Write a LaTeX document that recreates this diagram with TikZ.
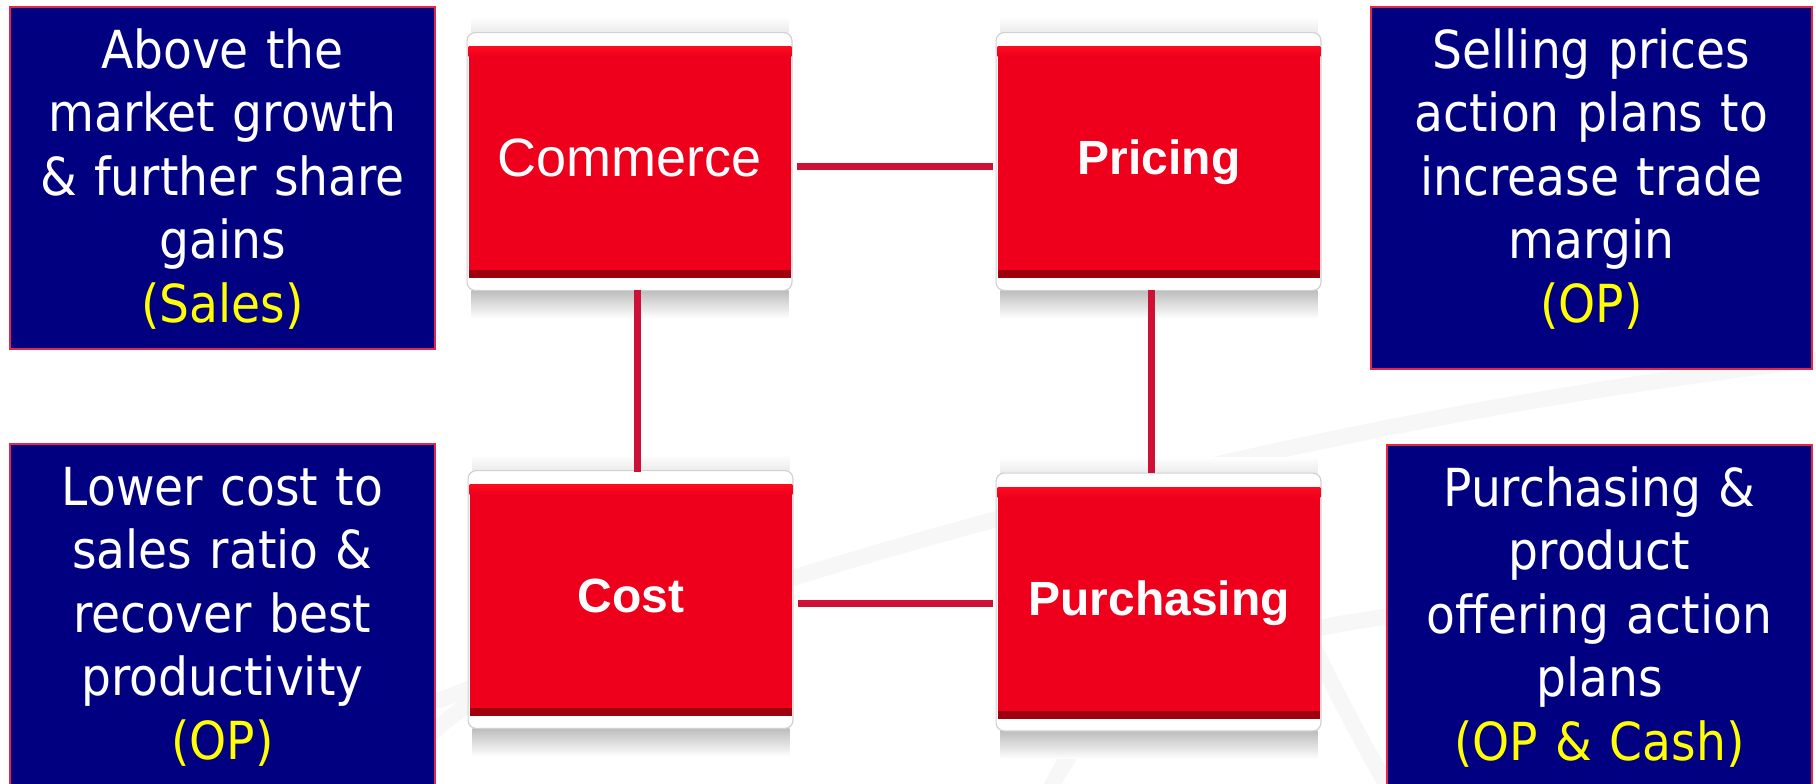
\documentclass[tikz,border=0pt]{standalone}
\usepackage{fontspec}
\setmainfont{Liberation Sans}
\newfontfamily\notefont{DejaVu Sans Condensed}
\usetikzlibrary{calc,backgrounds}

\definecolor{blockred}{RGB}{238,0,28}
\definecolor{blocktop}{RGB}{255,10,32}
\definecolor{blockdark}{RGB}{158,0,14}
\definecolor{linkred}{RGB}{206,16,54}
\definecolor{notenavy}{RGB}{0,0,128}
\definecolor{noteedge}{RGB}{226,40,70}
\definecolor{noteyellow}{RGB}{255,255,0}

\tikzset{
  block/.style={rectangle, fill=blockred, text=white, inner sep=0pt,
    minimum width=161pt, minimum height=115.5pt, text depth=5pt},
  blockregular/.style={block, font=\fontsize{27}{32}\selectfont, text height=19.4pt},
  blockbold/.style={block, font=\bfseries\fontsize{24}{29}\selectfont, text height=17.2pt},
  link/.style={draw=linkred, line width=3.5pt},
  notebox/.style={rectangle, fill=notenavy, draw=noteedge, line width=1pt,
    inner sep=0pt, anchor=north west},
  notetext/.style={text=white, align=center, anchor=north, inner sep=0pt,
    font=\notefont\fontsize{26.2}{31.75}\selectfont},
  swoosh/.style={draw=black!3, line width=8pt, line cap=round},
}

% strut fixing the height of the first line of a note
\newcommand\fl{\rule{0pt}{20.5pt}}

% white tray, shadows and edge bands around a red block
\newcommand\blockframe[1]{%
  \begin{scope}[on background layer]
    \shade[top color=white, bottom color=black!8]
      ($(#1.north west)+(3,-30)$) rectangle ($(#1.north east)+(-3,-14)$);
    \shade[top color=black!26, bottom color=white]
      ($(#1.south west)+(3,12)$) rectangle ($(#1.south east)+(-3,40)$);
    \filldraw[fill=white, draw=black!18, line width=0.6pt, rounded corners=4pt]
      ($(#1.north west)+(-1.5,-14)$) rectangle ($(#1.south east)+(0.5,12)$);
  \end{scope}
  \shade[top color=blocktop, bottom color=blockred]
    (#1.north west) rectangle ($(#1.north east)+(0,10)$);
  \fill[blockdark] ($(#1.south west)+(0,-8)$) rectangle (#1.south east);
}

\begin{document}
\begin{tikzpicture}[x=0.5pt,y=-0.5pt]
\useasboundingbox (0,0) rectangle (1816,783);

% page and faint background strokes
\begin{scope}[on background layer]
  \fill[white] (0,0) rectangle (1816,783);
  \draw[swoosh] (440,700) .. controls (800,560) and (1300,420) .. (1816,360);
  \draw[swoosh] (1050,790) .. controls (1090,700) and (1200,640) .. (1400,615);
  \draw[swoosh] (1290,600) .. controls (1330,680) and (1360,740) .. (1390,790);
  \draw[swoosh] (380,790) .. controls (420,740) and (460,700) .. (520,680);
\end{scope}

% the four red blocks
\node[blockregular] (commerce)   at (630,162.5) {Commerce};
\node[blockbold]    (pricing)    at (1159,162.5) {Pricing};
\node[blockbold]    (cost)       at (631,600.5) {Cost};
\node[blockbold]    (purchasing) at (1159,603) {Purchasing};

\blockframe{commerce}
\blockframe{pricing}
\blockframe{cost}
\blockframe{purchasing}

% connectors
\draw[link, shorten <=3pt, shorten >=2.5pt]
  ($(commerce.east)+(0,3.5)$) -- ($(commerce.east -| pricing.west)+(0,3.5)$);
\draw[link, shorten <=3pt, shorten >=2.5pt]
  ($(cost.east)+(0,2.5)$) -- ($(cost.east -| purchasing.west)+(0,2.5)$);
\draw[link] ($(commerce.south)+(7,12)$) -- ($(commerce.south |- cost.north)+(7,-13)$);
\draw[link] ($(pricing.south)+(-8,12)$) -- ($(pricing.south |- purchasing.north)+(-8,-14)$);

% notes
\node[notebox, minimum width=212.5pt, minimum height=171pt] (salesbox) at (9,6) {};
\node[notetext, text width=212pt] (salesnote) at ($(salesbox.north)+(0,21)$)
  {\fl Above the\\market growth\\\& further share\\gains\\\textcolor{noteyellow}{(Sales)}};

\node[notebox, minimum width=220.5pt, minimum height=181pt] (pricebox) at (1370,6) {};
\node[notetext, text width=220pt] (pricenote) at ($(pricebox.north)+(0,21)$)
  {\fl Selling prices\\action plans to\\increase trade\\margin\\\textcolor{noteyellow}{(OP)}};

\node[notebox, minimum width=212.5pt, minimum height=200pt] (costbox) at (9,443) {};
\node[notetext, text width=212pt] (costnote) at ($(costbox.north)+(0,21)$)
  {\fl Lower cost to\\sales ratio \&\\recover best\\productivity\\\textcolor{noteyellow}{(OP)}};

\node[notebox, minimum width=212.5pt, minimum height=200pt] (buybox) at (1386,444) {};
\node[notetext, text width=212pt] (buynote) at ($(buybox.north)+(0,21)$)
  {\fl Purchasing \&\\product\\offering action\\plans\\\textcolor{noteyellow}{(OP \& Cash)}};
\end{tikzpicture}
\end{document}
